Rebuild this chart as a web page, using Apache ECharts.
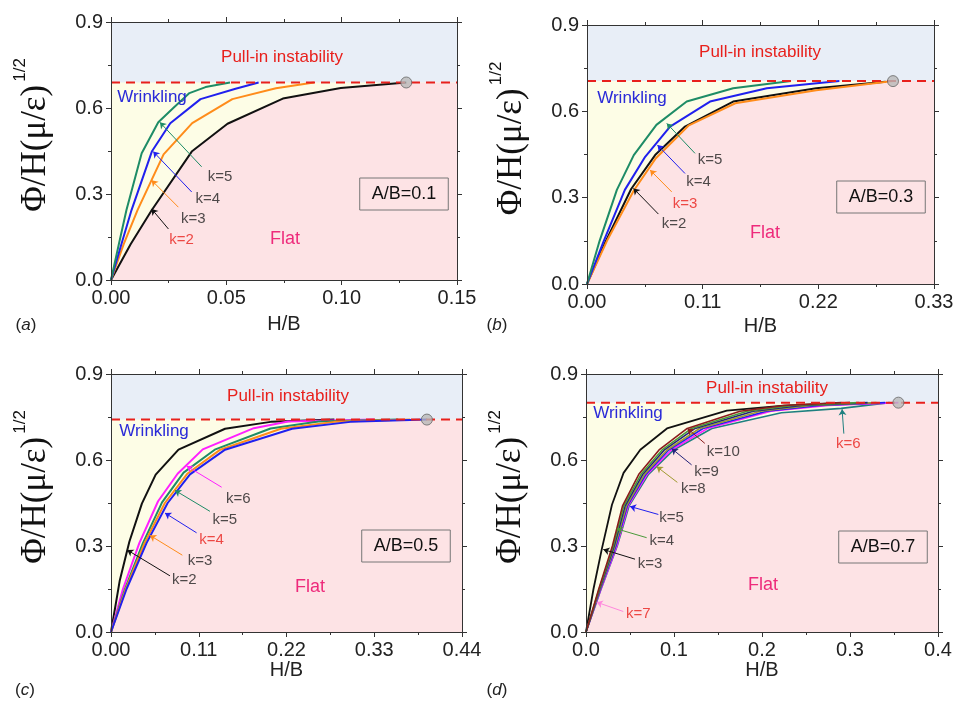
<!DOCTYPE html>
<html>
<head>
<meta charset="utf-8">
<script src="https://cdn.jsdelivr.net/npm/echarts@6/dist/echarts.min.js"></script>
<style>
html, body { margin: 0; background: #fff; }
#main { width: 960px; height: 716px; }
</style>
</head>
<body>
<div id="main"></div>
<script>
// pull-in limit of each panel (value of the dashed line)
var limitA = 0.689, limitB = 0.705, limitC = 0.741, limitD = 0.800;

// (a) A/B = 0.1
var aK2 = [[0,0],[0.0085,0.125],[0.0177,0.244],[0.035,0.448],[0.0505,0.545],[0.0745,0.633],[0.0996,0.670],[0.128,0.689]];
var aK3 = [[0,0],[0.0055,0.125],[0.0115,0.244],[0.0228,0.438],[0.0352,0.547],[0.0526,0.631],[0.0715,0.669],[0.088,0.689]];
var aK4 = [[0,0],[0.0045,0.125],[0.0089,0.244],[0.0177,0.448],[0.0257,0.547],[0.0388,0.631],[0.054,0.667],[0.064,0.689]];
var aK5 = [[0,0],[0.0034,0.125],[0.0067,0.244],[0.0133,0.442],[0.0205,0.55],[0.027,0.60],[0.034,0.652],[0.041,0.673],[0.0516,0.689]];

// (b) A/B = 0.3
var bK2 = [[0,0],[0.018,0.15],[0.042,0.33],[0.0648,0.448],[0.0932,0.547],[0.139,0.634],[0.218,0.68],[0.284,0.703]];
var bK3 = [[0,0],[0.019,0.15],[0.0445,0.325],[0.065,0.435],[0.0964,0.55],[0.141,0.628],[0.218,0.673],[0.291,0.705]];
var bK4 = [[0,0],[0.016,0.15],[0.036,0.327],[0.0553,0.442],[0.079,0.547],[0.117,0.634],[0.171,0.680],[0.240,0.705]];
var bK5 = [[0,0],[0.012,0.15],[0.0284,0.327],[0.0445,0.448],[0.066,0.553],[0.0948,0.634],[0.139,0.680],[0.194,0.705]];

// (c) A/B = 0.5
var cK2 = [[0,0],[0.011,0.18],[0.023,0.315],[0.0387,0.448],[0.056,0.549],[0.0846,0.636],[0.143,0.709],[0.20,0.733],[0.28,0.741]];
var cK3 = [[0,0],[0.0185,0.15],[0.042,0.31],[0.0675,0.45],[0.096,0.553],[0.137,0.636],[0.213,0.709],[0.28,0.733],[0.375,0.741]];
var cK4 = [[0,0],[0.0195,0.15],[0.0445,0.31],[0.071,0.45],[0.099,0.55],[0.143,0.636],[0.227,0.709],[0.30,0.733],[0.396,0.741]];
var cK5 = [[0,0],[0.0175,0.15],[0.040,0.31],[0.064,0.452],[0.091,0.556],[0.130,0.636],[0.20,0.71],[0.26,0.734],[0.36,0.741]];
var cK6 = [[0,0],[0.015,0.15],[0.0355,0.31],[0.059,0.456],[0.0835,0.552],[0.115,0.637],[0.179,0.711],[0.222,0.734],[0.33,0.741]];

// (d) A/B = 0.7
var dK3 = [[0,0],[0.0085,0.15],[0.018,0.29],[0.0295,0.444],[0.0427,0.555],[0.0617,0.636],[0.092,0.71],[0.160,0.772],[0.2245,0.79],[0.30,0.80]];
var dK4 = [[0,0],[0.0150,0.15],[0.031,0.30],[0.043,0.44],[0.0625,0.55],[0.0865,0.635],[0.120,0.71],[0.183,0.77],[0.235,0.79],[0.31,0.80]];
var dK5 = [[0,0],[0.0165,0.15],[0.034,0.30],[0.047,0.44],[0.068,0.55],[0.094,0.635],[0.133,0.71],[0.205,0.77],[0.265,0.79],[0.34,0.80]];
var dK6 = [[0,0],[0.0172,0.15],[0.0355,0.30],[0.049,0.44],[0.071,0.55],[0.0995,0.635],[0.143,0.71],[0.222,0.765],[0.29,0.78],[0.345,0.80]];
var dK7 = [[0,0],[0.017,0.15],[0.035,0.30],[0.048,0.44],[0.0695,0.55],[0.097,0.635],[0.138,0.71],[0.21,0.77],[0.275,0.79],[0.355,0.80]];
var dK8 = [[0,0],[0.016,0.15],[0.033,0.30],[0.046,0.44],[0.0665,0.55],[0.092,0.635],[0.129,0.71],[0.198,0.77],[0.255,0.79],[0.33,0.80]];
var dK9 = [[0,0],[0.0155,0.15],[0.032,0.30],[0.0445,0.44],[0.0645,0.55],[0.089,0.635],[0.124,0.71],[0.19,0.77],[0.245,0.79],[0.32,0.80]];
var dK10 = [[0,0],[0.0145,0.15],[0.030,0.30],[0.0415,0.44],[0.060,0.55],[0.083,0.635],[0.115,0.71],[0.175,0.77],[0.225,0.79],[0.29,0.80]];

// end point of each panel (grey circle)
var endA = [0.128, limitA], endB = [0.291, limitB], endC = [0.396, limitC], endD = [0.355, limitD];

// k labels: text, label x, y, arrow tail x, y, arrow tip x, y
var aNotes = [['k=5',0.0473,0.36,0.0393,0.395,0.0212,0.55],['k=4',0.042,0.284,0.035,0.307,0.0183,0.448],
  ['k=3',0.0357,0.213,0.0292,0.254,0.0176,0.348],['k=2',0.0306,0.139,0.0249,0.178,0.0176,0.248]];
var bNotes = [['k=5',0.117,0.431,0.1027,0.454,0.0759,0.558],['k=4',0.106,0.355,0.0932,0.384,0.067,0.483],
  ['k=3',0.0932,0.28,0.0806,0.32,0.060,0.396],['k=2',0.0828,0.208,0.0679,0.243,0.0442,0.332]];
var cNotes = [['k=6',0.1595,0.464,0.1387,0.505,0.0948,0.579],['k=5',0.1428,0.39,0.124,0.421,0.0802,0.494],
  ['k=4',0.126,0.32,0.1073,0.346,0.0677,0.415],['k=3',0.1115,0.248,0.0894,0.268,0.0489,0.337],
  ['k=2',0.0919,0.182,0.0739,0.196,0.0204,0.286]];
var dNotes = [['k=10',0.156,0.629,0.135,0.658,0.1152,0.710],['k=9',0.137,0.56,0.120,0.583,0.0973,0.640],
  ['k=8',0.122,0.498,0.1038,0.522,0.0803,0.577],['k=5',0.0973,0.397,0.0822,0.41,0.050,0.438],
  ['k=4',0.086,0.317,0.0689,0.329,0.0348,0.36],['k=3',0.0727,0.237,0.0557,0.254,0.0197,0.288],
  ['k=7',0.0595,0.0635,0.0424,0.0715,0.0121,0.104],['k=6',0.298,0.658,0.293,0.692,0.291,0.777]];

var BLACK = '#111', ORANGE = '#ff8c1a', BLUE = '#2020ee', GREEN = '#1e8c66', MAGENTA = '#ff20ff';
var TXT = '#222', RED = '#e8201c';

var panels = [
  { grid: {left: 111, top: 22, width: 346, height: 258}, xMax: 0.15, xStep: 0.05, digits: 2, limit: limitA, end: endA, gap: 34,
    curves: [[aK2, BLACK, 2], [aK3, ORANGE, 2], [aK4, BLUE, 2], [aK5, GREEN, 2]], lowest: aK2,
    notes: aNotes, arrowColors: [GREEN, BLUE, ORANGE, BLACK], textColors: [TXT, TXT, TXT, RED] },
  { grid: {left: 587, top: 25, width: 347, height: 259}, xMax: 0.33, xStep: 0.11, digits: 2, limit: limitB, end: endB, gap: 32,
    curves: [[bK2, BLACK, 2], [bK3, ORANGE, 2], [bK4, BLUE, 2], [bK5, GREEN, 2]], lowest: bK3,
    notes: bNotes, arrowColors: [GREEN, BLUE, ORANGE, BLACK], textColors: [TXT, TXT, RED, TXT] },
  { grid: {left: 111, top: 374, width: 351, height: 258}, xMax: 0.44, xStep: 0.11, digits: 2, limit: limitC, end: endC, gap: 26,
    curves: [[cK2, BLACK, 2], [cK6, MAGENTA, 2], [cK5, GREEN, 2], [cK3, ORANGE, 2], [cK4, BLUE, 2]], lowest: cK4,
    notes: cNotes, arrowColors: [MAGENTA, GREEN, BLUE, ORANGE, BLACK], textColors: [TXT, TXT, RED, TXT, TXT] },
  { grid: {left: 586, top: 374, width: 352, height: 258}, xMax: 0.4, xStep: 0.1, digits: 1, limit: limitD, end: endD, gap: 26,
    curves: [[dK3, BLACK, 1.8], [dK6, '#1f8080', 1.6], [dK7, MAGENTA, 1.6], [dK5, BLUE, 1.6], [dK8, '#a09a30', 1.6],
             [dK9, '#23237a', 1.6], [dK4, '#4a9a3a', 1.6], [dK10, '#8b1c1c', 1.6]], lowest: dK6,
    notes: dNotes, arrowColors: ['#8b1c1c', '#23237a', '#a09a30', BLUE, '#4a9a3a', BLACK, '#ff88dd', '#1f8080'],
    textColors: [TXT, TXT, TXT, TXT, TXT, TXT, RED, RED] }
];

var grids = [], xAxes = [], yAxes = [], series = [];
var tickCol = '#333';

panels.forEach(function (p, i) {
  grids.push(Object.assign({ outerBoundsMode: 'none' }, p.grid));
  var xb = i * 2, yb = i * 2;
  var xCommon = {
    type: 'value', gridIndex: i, min: 0, max: p.xMax, interval: p.xStep, z: 10,
    axisLine: { show: true, onZero: false, lineStyle: { color: tickCol, width: 1 } },
    axisTick: { show: true, inside: false, length: 5, lineStyle: { color: tickCol } },
    minorTick: { show: true, splitNumber: 2, length: 3, lineStyle: { color: tickCol } },
    splitLine: { show: false }
  };
  xAxes.push(Object.assign({}, xCommon, {
    position: 'bottom',
    axisLabel: { fontSize: 20, color: '#222', margin: 8, formatter: function (v) { return v.toFixed(p.digits); } },
    name: 'H/B', nameLocation: 'middle', nameGap: p.gap, nameTextStyle: { fontSize: 20, color: '#222' }
  }));
  xAxes.push(Object.assign({}, xCommon, { position: 'top', axisLabel: { show: false } }));
  var yCommon = {
    type: 'value', gridIndex: i, min: 0, max: 0.9, interval: 0.3, z: 10,
    axisLine: { show: true, onZero: false, lineStyle: { color: tickCol, width: 1 } },
    axisTick: { show: true, inside: false, length: 5, lineStyle: { color: tickCol } },
    minorTick: { show: true, splitNumber: 2, length: 3, lineStyle: { color: tickCol } },
    splitLine: { show: false }
  };
  yAxes.push(Object.assign({}, yCommon, {
    position: 'left',
    axisLabel: { fontSize: 20, color: '#222', margin: 8, formatter: function (v) { return v.toFixed(1); } },
    name: '{m|\u03a6/H(\u03bc/\u03b5)}{s|1/2}', nameLocation: 'middle', nameGap: 52, nameRotate: 90,
    nameTextStyle: {
      padding: [0, 0, 0, 32],
      rich: {
        m: { fontFamily: 'Liberation Serif', fontSize: 35, color: '#111' },
        s: { fontFamily: 'Liberation Sans', fontSize: 17, color: '#111', padding: [0, 0, 30, 3] }
      }
    }
  }));
  yAxes.push(Object.assign({}, yCommon, { position: 'right', axisLabel: { show: false } }));

  var ax = { xAxisIndex: xb, yAxisIndex: yb };
  // background regions
  series.push(Object.assign({ type: 'line', z: 0, symbol: 'none', silent: true,
    data: [[0, 0.9], [p.xMax, 0.9]], lineStyle: { width: 0 }, areaStyle: { color: '#e8eef7', opacity: 1 } }, ax));
  series.push(Object.assign({ type: 'line', z: 0, symbol: 'none', silent: true,
    data: [[0, p.limit], [p.xMax, p.limit]], lineStyle: { width: 0 }, areaStyle: { color: '#fdfde6', opacity: 1 } }, ax));
  series.push(Object.assign({ type: 'line', z: 0, symbol: 'none', silent: true,
    data: p.lowest.concat([[p.xMax, p.limit]]), lineStyle: { width: 0 }, areaStyle: { color: '#fde3e5', opacity: 1 } }, ax));
  // curves
  p.curves.forEach(function (c) {
    series.push(Object.assign({ type: 'line', z: 3, symbol: 'none', data: c[0],
      lineStyle: { color: c[1], width: c[2] } }, ax));
  });
  // dashed pull-in line
  series.push(Object.assign({ type: 'line', z: 5, symbol: 'none', data: [[0, p.limit], [p.xMax, p.limit]],
    lineStyle: { color: RED, width: 2, type: [9, 6] } }, ax));
  // end circle
  series.push(Object.assign({ type: 'scatter', z: 6, data: [p.end], symbolSize: 11,
    itemStyle: { color: '#b8b8b8', borderColor: '#666', borderWidth: 1 } }, ax));
  // arrows
  series.push(Object.assign({ type: 'line', z: 4, data: [], markLine: {
    silent: true, symbol: ['none', 'arrow'], symbolSize: 6, label: { show: false },
    data: p.notes.map(function (n, j) {
      return [{ coord: [n[3], n[4]], lineStyle: { color: p.arrowColors[j], width: 1, type: 'solid' } },
              { coord: [n[5], n[6]] }];
    })
  } }, ax));
  // k labels
  series.push(Object.assign({ type: 'scatter', z: 7, symbolSize: 0, silent: true,
    data: p.notes.map(function (n, j) {
      return { value: [n[1], n[2]], name: n[0], label: { color: p.textColors[j] } };
    }),
    label: { show: true, position: 'inside', formatter: '{b}', fontSize: 15, fontFamily: 'Liberation Sans' } }, ax));
});

function txt(x, y, s, size, color) {
  return { type: 'text', x: x, y: y, z: 20, style: { text: s, fontSize: size, fontFamily: 'Liberation Sans',
    fill: color, align: 'center', verticalAlign: 'middle' } };
}
function box(x, y, s) {
  return { type: 'text', x: x, y: y, z: 20, style: { text: s, fontSize: 18, fontFamily: 'Liberation Sans',
    fill: '#111', align: 'center', verticalAlign: 'middle', borderColor: '#777', borderWidth: 1, padding: [7, 12] } };
}
function tag(x, y, letter) {
  return { type: 'text', x: x, y: y, z: 20, style: { text: '({i|' + letter + '})', fontSize: 17,
    fontFamily: 'Liberation Sans', fill: '#222', align: 'center', verticalAlign: 'middle',
    rich: { i: { fontStyle: 'italic', fontSize: 17, fontFamily: 'Liberation Sans', fill: '#222' } } } };
}

var graphic = [
  txt(282, 57, 'Pull-in instability', 17, RED), txt(152, 97, 'Wrinkling', 17, '#2a2ad8'), txt(285, 239, 'Flat', 18, '#ee2a7b'),
  box(404, 194, 'A/B=0.1'),
  txt(760, 52, 'Pull-in instability', 17, RED), txt(632, 98, 'Wrinkling', 17, '#2a2ad8'), txt(765, 233, 'Flat', 18, '#ee2a7b'),
  box(881, 197, 'A/B=0.3'),
  txt(288, 396, 'Pull-in instability', 17, RED), txt(154, 431, 'Wrinkling', 17, '#2a2ad8'), txt(310, 587, 'Flat', 18, '#ee2a7b'),
  box(406, 546, 'A/B=0.5'),
  txt(767, 388, 'Pull-in instability', 17, RED), txt(628, 413, 'Wrinkling', 17, '#2a2ad8'), txt(763, 585, 'Flat', 18, '#ee2a7b'),
  box(883, 547, 'A/B=0.7'),
  tag(26, 325, 'a'), tag(497, 325, 'b'), tag(25, 690, 'c'), tag(497, 690, 'd')
];

var chart = echarts.init(document.getElementById('main'), null, { renderer: 'canvas' });
chart.setOption({
  animation: false,
  backgroundColor: '#fff',
  textStyle: { fontFamily: 'Liberation Sans' },
  grid: grids,
  xAxis: xAxes,
  yAxis: yAxes,
  series: series,
  graphic: graphic
});
</script>
</body>
</html>
